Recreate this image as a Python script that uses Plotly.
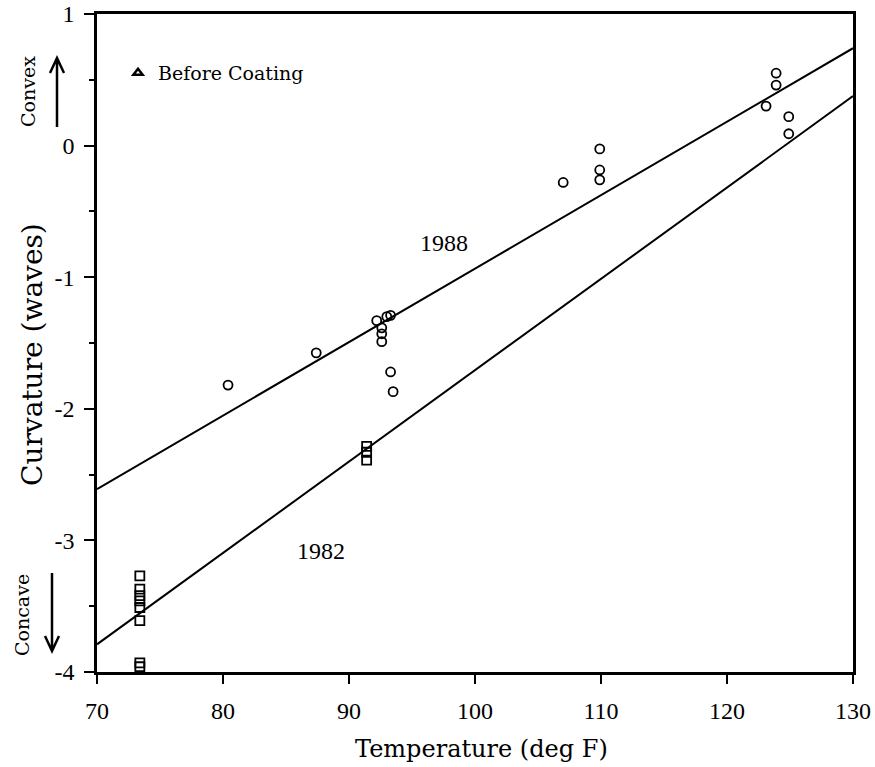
import plotly.graph_objects as go

# ---- data ----
temp_1988 = [80.4, 87.4, 92.2, 92.6, 92.6, 92.6, 93.0, 93.3, 93.3, 93.5,
             107.0, 109.9, 109.9, 109.9, 123.1, 123.9, 123.9, 124.9, 124.9]
curv_1988 = [-1.82, -1.575, -1.33, -1.385, -1.43, -1.49, -1.30, -1.29, -1.72, -1.87,
             -0.28, -0.025, -0.185, -0.26, 0.30, 0.55, 0.46, 0.22, 0.09]

temp_1982 = [73.4, 73.4, 73.4, 73.4, 73.4, 73.4, 73.4, 73.4, 91.4, 91.4, 91.4]
curv_1982 = [-3.27, -3.37, -3.42, -3.46, -3.51, -3.61, -3.93, -3.96, -2.285, -2.33, -2.39]

fit_x = [70, 130]
fit_1988 = [-2.61, 0.74]
fit_1982 = [-3.79, 0.376]

x_ticks = [70, 80, 90, 100, 110, 120, 130]
x_labels = ["70", "80", "90", "100", "110", "120", "130"]
y_ticks = [-4, -3, -2, -1, 0, 1]
y_labels = ["-4", "-3", "-2", "-1", "0", "1"]

W, H = 875, 767
ML, MR, MT, MB = 97, 22, 14, 95
PW, PH = W - ML - MR, H - MT - MB


def px(xp):
    return (xp - ML) / PW


def py(yp):
    return (H - MB - yp) / PH


SERIF = "DejaVu Serif"
NUMF = "Liberation Serif"

fig = go.Figure()

fig.add_trace(go.Scatter(x=fit_x, y=fit_1988, mode="lines",
                         line=dict(color="black", width=2), showlegend=False))
fig.add_trace(go.Scatter(x=fit_x, y=fit_1982, mode="lines",
                         line=dict(color="black", width=2), showlegend=False))
fig.add_trace(go.Scatter(x=temp_1988, y=curv_1988, mode="markers", name="1988",
                         marker=dict(symbol="circle-open", size=9, color="black",
                                     line=dict(width=1.8)),
                         showlegend=False, cliponaxis=False))
fig.add_trace(go.Scatter(x=temp_1982, y=curv_1982, mode="markers", name="1982",
                         marker=dict(symbol="square-open", size=9, color="black",
                                     line=dict(width=1.8)),
                         showlegend=False, cliponaxis=False))
fig.add_trace(go.Scatter(x=[None], y=[None], mode="markers", name="Before Coating",
                         marker=dict(symbol="triangle-up-open", size=8, color="black",
                                     line=dict(width=2.5)),
                         showlegend=True))


def lab(x, y, text, size, family=SERIF, angle=0, ref="paper"):
    return dict(x=x, y=y, xref=ref if ref == "paper" else "x",
                yref=ref if ref == "paper" else "y", text=text, textangle=angle,
                showarrow=False, xanchor="center", yanchor="middle",
                font=dict(family=family, size=size, color="black"))


annotations = [
    lab(97.5, -0.74, "1988", 24, NUMF, ref="data"),
    lab(87.8, -3.08, "1982", 24, NUMF, ref="data"),
    lab(px(28), py(92), "Convex", 19, angle=-90),
    lab(px(22), py(615), "Concave", 19, angle=-90),
    lab(px(32), py(355), "Curvature (waves)", 28, angle=-90),
    lab(px(481), py(749), "Temperature (deg F)", 24),
]


def arrow_path(x0, y0, x1, y1, hw=7, hl=15):
    d = 1 if y1 > y0 else -1
    return (f"M {px(x0)},{py(y0)} L {px(x1)},{py(y1)} "
            f"M {px(x1 - hw)},{py(y1 - d * hl)} L {px(x1)},{py(y1)} L {px(x1 + hw)},{py(y1 - d * hl)}")


shapes = [
    dict(type="path", xref="paper", yref="paper", path=arrow_path(57, 127, 57, 58),
         line=dict(color="black", width=2.5)),
    dict(type="path", xref="paper", yref="paper", path=arrow_path(52, 573, 52, 651),
         line=dict(color="black", width=2.5)),
]

fig.update_layout(
    width=W, height=H,
    margin=dict(l=ML, r=MR, t=MT, b=MB),
    paper_bgcolor="white", plot_bgcolor="white",
    font=dict(family=SERIF, color="black"),
    annotations=annotations,
    shapes=shapes,
    legend=dict(x=px(118), y=py(73), xanchor="left", yanchor="middle",
                bgcolor="rgba(0,0,0,0)", font=dict(family=SERIF, size=19, color="black"),
                itemwidth=30),
    xaxis=dict(range=[70, 130], tickmode="array", tickvals=x_ticks, ticktext=x_labels,
               ticks="outside", ticklen=9, tickwidth=1.5, tickcolor="black",
               ticklabelstandoff=6,
               showline=True, linecolor="black", linewidth=2.5, mirror=True,
               showgrid=False, zeroline=False, automargin=False,
               tickfont=dict(family=NUMF, size=24, color="black")),
    yaxis=dict(range=[-4, 1], tickmode="array", tickvals=y_ticks, ticktext=y_labels,
               ticks="outside", ticklen=10, tickwidth=1.5, tickcolor="black",
               ticklabelstandoff=5,
               minor=dict(tickmode="linear", tick0=-4, dtick=0.5, ticks="outside",
                          ticklen=5, tickwidth=1.5, tickcolor="black", showgrid=False),
               showline=True, linecolor="black", linewidth=2.5, mirror=True,
               showgrid=False, zeroline=False, automargin=False,
               tickfont=dict(family=NUMF, size=24, color="black")),
)

fig.write_html("out.html", config={"displayModeBar": False},
               post_script="document.body.style.margin='0';")
